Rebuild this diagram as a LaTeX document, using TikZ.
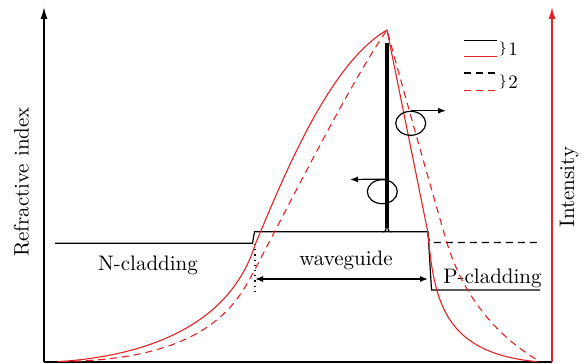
\documentclass[tikz,border=0pt]{standalone}
\usepackage{tikz}
\usetikzlibrary{
    arrows.meta,
    shapes.geometric
}
\definecolor{modered}{RGB}{226,35,38}
\tikzset{
    profile/.style={line width=0.6pt},
    mode/.style={modered,line width=0.55pt},
    modedash/.style={modered,line width=0.55pt,dash pattern=on 3.5pt off 2.5pt},
    profdash/.style={line width=0.6pt,dash pattern=on 3.5pt off 2.5pt},
    ring/.style={draw,ellipse,line width=0.6pt,minimum width=15pt,minimum height=12pt,inner sep=0pt},
    tip/.style={-{Latex[length=4pt,width=3pt]},line width=0.6pt}
}

\begin{document}
\begin{tikzpicture}[x=0.5pt,y=0.5pt,font=\fontsize{10.5}{12}\selectfont]
\useasboundingbox (0,0) rectangle (587,363);

% Axes
\coordinate (O) at (44,1.3);
\coordinate (Ytop) at (44,356);
\coordinate (E) at (552,1.3);
\coordinate (Itop) at (552,356);
\draw[line width=0.75pt,-{Latex[length=6pt,width=3.5pt]}] (O) -- (Ytop);
\draw[line width=1pt] (O) -- (E);
\draw[modered,line width=0.75pt,-{Latex[length=6pt,width=3.5pt]}] (E) -- (Itop);
\node[rotate=90] (nlabel) at (21.5,181) {Refractive index};
\node[rotate=90] (ilabel) at (569,176) {Intensity};

% Refractive index profile
\draw[profile] (55,119.7) -- (252.5,119.7) -- (254.5,131.3) -- (428,131.3) -- (431.5,73) -- (540,73);
\draw[profdash] (428,129) .. controls (429,121) .. (434,120.5) -- (537,120.5);

% Thick bar
\draw[line width=2pt] (387,135) -- (387,320);
\draw[profile] (382,131.3) .. controls (385.5,131.3) .. (386.2,135.5);
\draw[profile] (392,131.3) .. controls (388.5,131.3) .. (387.8,135.5);

% Regions
\node[anchor=base] (ncl) at (148,92.3) {N-cladding};
\node[anchor=base] (wg) at (346,97) {waveguide};
\node[anchor=base] (pcl) at (492.5,79.7) {P-cladding};
\coordinate (wgL) at (255,84);
\coordinate (wgR) at (428,84);
\draw[tip,{Latex[length=4pt,width=3pt]}-{Latex[length=4pt,width=3pt]}] (wgL) -- (wgR);
\draw[line width=0.6pt,dash pattern=on 0.6pt off 2pt] (255,119) -- (255,69);

% Mode intensity
\coordinate (peak) at (387,333);
\draw[mode] (58,1.3) .. controls (160,8) and (232,45) .. (255,118)
  .. controls (285,190) and (330,300) .. (peak)
  -- (428,130) .. controls (434,60) and (445,10) .. (537,1.3);
\draw[modedash] (62,1.5) .. controls (205,3) and (236,58) .. (253,90)
  .. controls (290,160) and (350,280) .. (peak)
  .. controls (400,285) and (428,185) .. (447,120)
  .. controls (465,62) and (500,25) .. (540,1.3);

% Direction rings
\node[ring] (ringR) at (410.7,239.7) {};
\node[ring] (ringL) at (382.3,171.3) {};
\coordinate (ringRend) at (446,252.3);
\coordinate (ringLend) at (350,183.5);
\draw[tip] (ringR.north) -- (ringRend);
\draw[tip] ([xshift=2pt]ringL.north) -- (ringLend);

% Legend
\draw[profile] (464,322.3) -- (497,322.3);
\draw[mode] (464,306.3) -- (497,306.3);
\draw[profdash] (464,290) -- (497,290);
\draw[modedash] (464,272.3) -- (497,272.3);
\node (brace1) at (503,314) {\scriptsize$\}$};
\node (brace2) at (503,281) {\scriptsize$\}$};
\node[anchor=base west,inner sep=0pt,font=\fontsize{9.5}{11}\selectfont] (lab1) at (508,307.3) {1};
\node[anchor=base west,inner sep=0pt,font=\fontsize{9.5}{11}\selectfont] (lab2) at (508,274.7) {2};

\end{tikzpicture}
\end{document}
